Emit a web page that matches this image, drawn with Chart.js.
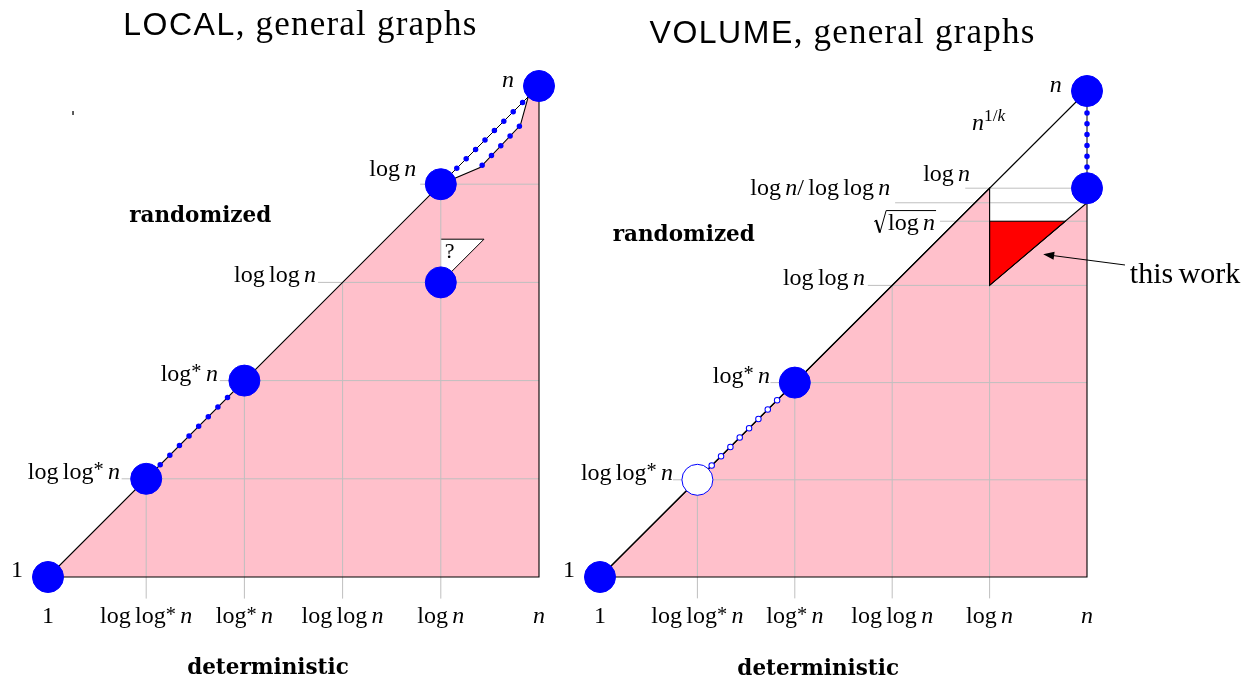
<!DOCTYPE html>
<html>
<head>
<meta charset="utf-8">
<script src="https://cdn.jsdelivr.net/npm/chart.js@4.4.0/dist/chart.umd.min.js"></script>
<style>
  html, body { margin: 0; padding: 0; background: #fff; overflow: hidden; }
  #wrap { position: relative; width: 1252px; height: 678px; }
  canvas { position: absolute; left: 0; top: 0; }
</style>
</head>
<body>
<div id="wrap">
  <canvas id="local" width="1252" height="678"></canvas>
  <canvas id="volume" width="1252" height="678"></canvas>
</div>
<script>
const W = 1252, H = 678;
const BLUE = '#0000ff', PINK = '#ffc0cb', RED = '#ff0000', GRID = '#bfbfbf', INK = '#000000';

// complexity ladder, used on both axes of both panels (0 = 1 ... 5 = n)
const levels = ['1', 'log log^* n', 'log^* n', 'log log n', 'log n', 'n'];

// LOCAL panel
const localRegion = [[0, 0], [4, 4], [4.40, 4.17], [4.81, 4.60], [4.89, 4.89], [5, 5], [5, 0], [0, 0]];
const localOpenGap = [[4, 3.44], [4.44, 3.44], [4, 3]];
const localDots = [[0, 0], [1, 1], [2, 2], [4, 3], [4, 4], [5, 5]];
const localDottedLow = [[1, 1], [2, 2]];
const localDottedTop = [[4, 4], [5, 5]];
const localDottedCurve = [[4.40, 4.17], [4.81, 4.60]];

// VOLUME panel
const volumeRegion = [[0, 0], [4, 4], [4, 3], [5, 3.85], [5, 0], [0, 0]];
const volumeDiagonal = [[0, 0], [5, 5]];
const volumeThisWork = [[4, 3], [4, 3.66], [4.78, 3.66], [4, 3]];
const volumeDots = [[0, 0], [2, 2], [5, 4], [5, 5]];
const volumeOpenDots = [[1, 1]];
const volumeDottedRight = [[5, 4], [5, 5]];
const volumeHollowDotted = [[1, 1], [2, 2]];
const volumeExtraLevels = [3.85, 3.66];
const volumeExtraLabels = ['log n/ log log n', '√log n'];

const pts = a => a.map(([x, y]) => ({x, y}));

function line(data, color, width, order, extra) {
  return Object.assign({
    data: pts(data), borderColor: color, borderWidth: width,
    pointRadius: 0, fill: false, tension: 0, order
  }, extra || {});
}
function dotted(data, color, width, gap, offset, order) {
  return line(data, color, width, order, {borderDash: [0, gap], borderDashOffset: offset, borderCapStyle: 'round'});
}
function dots(data, fill, stroke, order) {
  return {
    data: pts(data), showLine: false, pointRadius: 15.5, pointHoverRadius: 15.5,
    pointBackgroundColor: fill, pointBorderColor: stroke, pointBorderWidth: 1, order
  };
}
function gridSets(starts, extra) {
  const sets = [];
  for (let i = 1; i <= 4; i++) {
    sets.push(line([[i, -0.22], [i, i]], GRID, 1, 9));
    sets.push(line([[starts[i - 1], i], [5, i]], GRID, 1, 9));
  }
  (extra || []).forEach(([s, v]) => sets.push(line([[s, v], [5, v]], GRID, 1, 9)));
  return sets;
}

// ---- math-ish text ----
function mathRuns(str) {
  const re = /\^\{([^}]*)\}|\^(.)|([A-Za-z]+)|(\s+)|([^A-Za-z^\s]+)/g;
  const out = [];
  let m;
  while ((m = re.exec(str)) !== null) {
    if (m[1] !== undefined || m[2] !== undefined) {
      mathRuns(m[1] !== undefined ? m[1] : m[2]).forEach(r => { r.sup = true; out.push(r); });
    } else if (m[3]) out.push({t: m[3], it: m[3].length === 1});
    else if (m[4]) out.push({t: ' ', gap: true});
    else out.push({t: m[5]});
  }
  return out;
}
function drawMath(ctx, str, px, py, size, align, measureOnly) {
  if (str[0] === '√') return drawSqrt(ctx, str.slice(1), px, py, size, align);
  const rs = mathRuns(str);
  const font = r => (r.it ? 'italic ' : '') +
    (r.sup ? size * (r.t === '*' ? 0.85 : 0.72) : size) + 'px "Liberation Serif"';
  let total = 0;
  rs.forEach(r => {
    ctx.font = font(r);
    r.w = r.gap ? size * 0.18 : ctx.measureText(r.t).width;
    total += r.w;
  });
  if (measureOnly) return total;
  let x = align === 'right' ? px - total : align === 'center' ? px - total / 2 : px;
  ctx.textAlign = 'left';
  ctx.textBaseline = 'alphabetic';
  rs.forEach(r => {
    if (!r.gap) {
      ctx.font = font(r);
      const rise = r.sup ? (r.t === '*' ? size * 0.1 : size * 0.38) : 0;
      ctx.fillText(r.t, x, py - rise);
    }
    x += r.w;
  });
  return total;
}
function drawSqrt(ctx, inner, px, py, size, align) {
  const wIn = drawMath(ctx, inner, 0, 0, size, 'left', true);
  const rw = size * 0.58;
  const total = rw + wIn;
  const x0 = align === 'right' ? px - total : align === 'center' ? px - total / 2 : px;
  const top = py - size * 0.82;
  ctx.lineWidth = 1;
  ctx.beginPath();
  ctx.moveTo(x0, py - size * 0.36);
  ctx.lineTo(x0 + size * 0.08, py - size * 0.42);
  ctx.stroke();
  ctx.lineWidth = 2;
  ctx.beginPath();
  ctx.moveTo(x0 + size * 0.08, py - size * 0.42);
  ctx.lineTo(x0 + size * 0.24, py + size * 0.1);
  ctx.stroke();
  ctx.lineWidth = 1;
  ctx.beginPath();
  ctx.moveTo(x0 + size * 0.24, py + size * 0.1);
  ctx.lineTo(x0 + size * 0.5, top);
  ctx.lineTo(x0 + total + 1, top);
  ctx.stroke();
  drawMath(ctx, inner, x0 + rw, py, size, 'left');
  return total;
}
function drawTitle(ctx, sans, rest, cx, by) {
  ctx.textAlign = 'left';
  ctx.textBaseline = 'alphabetic';
  ctx.letterSpacing = '1.5px';
  ctx.font = '32px "Liberation Sans"';
  const w1 = ctx.measureText(sans).width;
  ctx.letterSpacing = '1.2px';
  ctx.font = '35px "Liberation Serif"';
  const w2 = ctx.measureText(rest).width;
  const x0 = cx - (w1 + w2) / 2;
  ctx.letterSpacing = '1.5px';
  ctx.font = '32px "Liberation Sans"';
  ctx.fillText(sans, x0, by);
  ctx.letterSpacing = '1.2px';
  ctx.font = '35px "Liberation Serif"';
  ctx.fillText(rest, x0 + w1, by);
  ctx.letterSpacing = '0px';
}
function drawArrow(ctx, x1, y1, x2, y2) {
  const a = Math.atan2(y2 - y1, x2 - x1), L = 11, hw = 4;
  ctx.lineWidth = 1;
  ctx.beginPath();
  ctx.moveTo(x1, y1);
  ctx.lineTo(x2 - Math.cos(a) * L * 0.8, y2 - Math.sin(a) * L * 0.8);
  ctx.stroke();
  ctx.beginPath();
  ctx.moveTo(x2, y2);
  ctx.lineTo(x2 - Math.cos(a) * L - Math.sin(a) * hw, y2 - Math.sin(a) * L + Math.cos(a) * hw);
  ctx.lineTo(x2 - Math.cos(a) * L + Math.sin(a) * hw, y2 - Math.sin(a) * L - Math.cos(a) * hw);
  ctx.closePath();
  ctx.fill();
}

function labelPlugin(items, arrows) {
  return {
    id: 'labels',
    afterDatasetsDraw(chart) {
      const {ctx} = chart;
      const sx = chart.scales.x, sy = chart.scales.y;
      ctx.save();
      ctx.fillStyle = INK;
      ctx.strokeStyle = INK;
      items.forEach(it => {
        const px = sx.getPixelForValue(it.x) + (it.dx || 0);
        const py = sy.getPixelForValue(it.y) + (it.dy || 0);
        if (it.kind === 'title') {
          drawTitle(ctx, it.sans, it.text, px, py);
        } else if (it.kind === 'bold') {
          ctx.font = 'bold 21.5px "DejaVu Serif"';
          ctx.textAlign = 'center';
          ctx.textBaseline = 'alphabetic';
          ctx.fillText(it.text, px, py);
        } else {
          drawMath(ctx, it.text, px, py, it.size || 24, it.align || 'left');
        }
      });
      (arrows || []).forEach(a => drawArrow(ctx,
        sx.getPixelForValue(a[0]), sy.getPixelForValue(a[1]),
        sx.getPixelForValue(a[2]), sy.getPixelForValue(a[3])));
      ctx.restore();
    }
  };
}

function levelItems(anchors) {
  const items = [];
  levels.forEach((lab, i) => {
    // label along the vertical ladder
    items.push({text: lab, x: anchors[i][0], y: i, dy: anchors[i][1], align: 'right'});
    // label under the horizontal ladder
    items.push({text: lab, x: i, y: 0, dy: 46, align: 'center'});
  });
  return items;
}

function makePanel(id, frame, datasets, items, arrows) {
  return new Chart(document.getElementById(id), {
    type: 'line',
    data: {datasets},
    options: {
      responsive: false,
      animation: false,
      events: [],
      layout: {padding: 0, autoPadding: false},
      scales: {
        x: {type: 'linear', display: false, min: -frame.ox / frame.ux, max: (W - frame.ox) / frame.ux},
        y: {type: 'linear', display: false, min: -(H - frame.oy) / frame.uy, max: frame.oy / frame.uy}
      },
      plugins: {legend: {display: false}, tooltip: {enabled: false}}
    },
    plugins: [labelPlugin(items, arrows)]
  });
}

// ---- LOCAL ----
makePanel('local', {ox: 48, oy: 577, ux: 98.2, uy: 98.2}, [
  line(localRegion, 'rgba(0,0,0,0)', 0, 10, {fill: 'shape', backgroundColor: PINK}),
  line(localOpenGap, INK, 1, 9.5, {fill: 'shape', backgroundColor: '#ffffff'}),
  ...gridSets([0.75, 1.75, 2.75, 3.79]),
  line(localRegion, INK, 1.1, 7),
  line(localDottedTop, INK, 1, 7),
  line([[0.255, 4.745], [0.255, 4.705]], '#444', 1, 7),
  dotted(localDottedLow, BLUE, 5.5, 13.6, 7.4, 5),
  dotted(localDottedTop, BLUE, 5.5, 13.3, 4.0, 5),
  dotted(localDottedCurve, BLUE, 5.5, 13.5, 10.5, 5),
  dots(localDots, BLUE, BLUE, 1)
], [
  {kind: 'title', sans: 'LOCAL', text: ', general graphs', x: 2.57, y: 5.52},
  {kind: 'bold', text: 'randomized', x: 1.55, y: 3.61},
  {kind: 'bold', text: 'deterministic', x: 2.24, y: -0.99},
  {text: '?', x: 4.04, y: 3.25, size: 22},
  ...levelItems([[-0.255, 0], [0.733, 0], [1.73, 0], [2.73, 0], [3.75, -8], [4.745, 1]])
]);

// ---- VOLUME ----
makePanel('volume', {ox: 600, oy: 577, ux: 97.4, uy: 97.2}, [
  line(volumeRegion, 'rgba(0,0,0,0)', 0, 10, {fill: 'shape', backgroundColor: PINK}),
  ...gridSets([0.75, 1.75, 2.75, 3.75], [[3.03, volumeExtraLevels[0]], [3.49, volumeExtraLevels[1]]]),
  line(volumeThisWork, INK, 1, 8, {fill: 'shape', backgroundColor: RED}),
  line(volumeRegion, INK, 1.1, 7),
  line(volumeDiagonal, INK, 1.1, 7),
  line(volumeDottedRight, INK, 1, 6),
  dotted(volumeDottedRight, BLUE, 5.5, 10.8, 0.4, 5),
  dotted(volumeHollowDotted, BLUE, 6.5, 13.2, 6.2, 5),
  dotted(volumeHollowDotted, '#ffffff', 4.5, 13.2, 6.2, 4),
  dots(volumeOpenDots, '#ffffff', BLUE, 1),
  dots(volumeDots, BLUE, BLUE, 1)
], [
  {kind: 'title', sans: 'VOLUME', text: ', general graphs', x: 2.49, y: 5.494},
  {kind: 'bold', text: 'randomized', x: 0.86, y: 3.46},
  {kind: 'bold', text: 'deterministic', x: 2.24, y: -1.01},
  {text: 'n^{1/k}', x: 3.82, y: 4.6},
  {text: 'this work', x: 5.44, y: 3.02, size: 30},
  {text: volumeExtraLabels[0], x: 2.98, y: volumeExtraLevels[0], dy: -8, align: 'right'},
  {text: volumeExtraLabels[1], x: 3.44, y: volumeExtraLevels[1], dy: 9, align: 'right'},
  ...levelItems([[-0.257, 0], [0.75, 0], [1.745, 0], [2.72, 0], [3.8, -7], [4.74, 1]])
], [[5.39, 3.21, 4.55, 3.32]]);
</script>
</body>
</html>
